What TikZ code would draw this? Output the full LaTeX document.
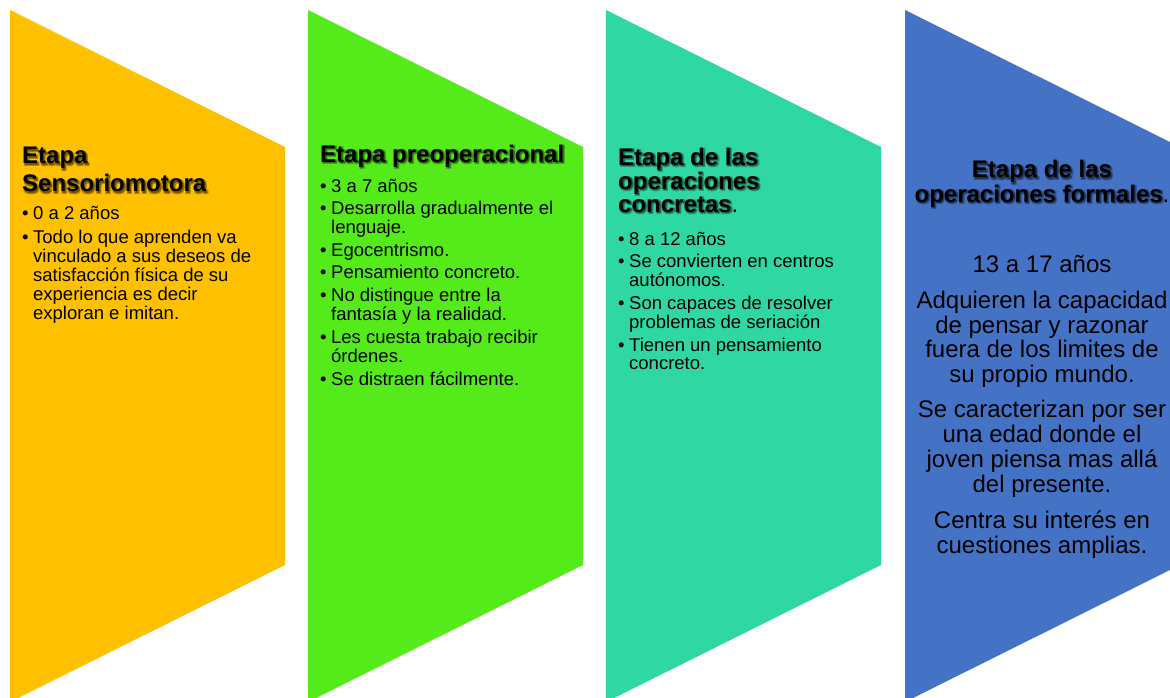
\documentclass[tikz,border=0pt]{standalone}
\usepackage{fontspec}
\setmainfont{Liberation Sans}
\definecolor{sensocol}{HTML}{FFC000}
\definecolor{preopcol}{HTML}{55EB1A}
\definecolor{concol}{HTML}{2FD8A2}
\definecolor{formcol}{HTML}{4472C4}
% bold titles carry a soft dark shadow
\newcommand{\shadl}[4]{\rlap{\kern#1\raisebox{#2}{\textcolor{#3}{#4}}}}
\newcommand{\shad}[2]{\leavevmode
    \shadl{2.2pt}{-2.2pt}{black!28!#1}{#2}\shadl{0.4pt}{-2.2pt}{black!28!#1}{#2}%
    \shadl{2.2pt}{-0.4pt}{black!28!#1}{#2}\shadl{1.3pt}{-1.3pt}{black!55!#1}{#2}#2}
\newcommand{\bul}{\textbullet}

\begin{document}
\begin{tikzpicture}[x=1pt, y=-1pt,
        title/.style={anchor=base west, inner sep=0pt, font=\fontsize{24}{28}\selectfont\bfseries},
        list/.style={anchor=base west, inner sep=0pt, font=\fontsize{18.5}{18.8}\selectfont},
        body/.style={anchor=base, inner sep=0pt, font=\fontsize{24}{24}\selectfont}]
        \useasboundingbox (0,0) rectangle (1170,698);
        \clip (0,0) rectangle (1170,698);

        \fill[sensocol] (10,10) -- (285,147) -- (285,565) -- (10,702) -- cycle;
        \fill[preopcol] (308,10) -- (583,147) -- (583,565) -- (308,702) -- cycle;
        \fill[concol] (606,10) -- (881,147) -- (881,565) -- (606,702) -- cycle;
        \fill[formcol] (905,10) -- (1180,147) -- (1180,565) -- (905,702) -- cycle;

        \node[title] (sens) at (22,164) {\begin{tabular}[t]{@{}l@{}}
            \shad{sensocol}{Etapa}\\ \shad{sensocol}{Sensoriomotora}\end{tabular}};
        \node[list] (sensl) at (22,219) {\begin{tabular}[t]{@{}l@{\hspace{4.5pt}}l@{}}
            \bul & 0 a 2 años\\[5.2pt]
            \bul & Todo lo que aprenden va\\
                 & vinculado a sus deseos de\\
                 & satisfacción física de su\\
                 & experiencia es decir\\
                 & exploran e imitan.\end{tabular}};

        \node[title] (preop) at (320,162) {\shad{preopcol}{Etapa preoperacional}};
        \node[list] (preopl) at (320,192) {\begin{tabular}[t]{@{}l@{\hspace{4.5pt}}l@{}}
            \bul & 3 a 7 años\\[3.5pt]
            \bul & Desarrolla gradualmente el\\
                 & lenguaje.\\[3.5pt]
            \bul & Egocentrismo.\\[3.5pt]
            \bul & Pensamiento concreto.\\[3.5pt]
            \bul & No distingue entre la\\
                 & fantasía y la realidad.\\[3.5pt]
            \bul & Les cuesta trabajo recibir\\
                 & órdenes.\\[3.5pt]
            \bul & Se distraen fácilmente.\end{tabular}};

        \node[title, font=\fontsize{24}{22.5}\selectfont\bfseries] (conc) at (618,165) {\begin{tabular}[t]{@{}l@{}}
            \shad{concol}{Etapa de las}\\ \shad{concol}{operaciones}\\
            \shad{concol}{concretas}\textmd{.}\end{tabular}};
        \node[list, font=\fontsize{18.5}{18}\selectfont] (concl) at (618,245) {\begin{tabular}[t]{@{}l@{\hspace{4.5pt}}l@{}}
            \bul & 8 a 12 años\\[4pt]
            \bul & Se convierten en centros\\
                 & autónomos.\\[4pt]
            \bul & Son capaces de resolver\\
                 & problemas de seriación\\[4pt]
            \bul & Tienen un pensamiento\\
                 & concreto.\end{tabular}};

        \node[title, anchor=base, font=\fontsize{24}{24}\selectfont\bfseries] (form) at (1042,178) {\begin{tabular}[t]{@{}c@{}}
            \shad{formcol}{Etapa de las}\\
            \shad{formcol}{operaciones formales}\textmd{.}\end{tabular}};
        \node[body] (forml) at (1042,272) {\begin{tabular}[t]{@{}c@{}}
            13 a 17 años\\[12pt]
            Adquieren la capacidad\\
            de pensar y razonar\\
            fuera de los limites de\\
            su propio mundo.\\[11pt]
            Se caracterizan por ser\\
            una edad donde el\\
            joven piensa mas allá\\
            del presente.\\[12pt]
            Centra su interés en\\
            cuestiones amplias.\end{tabular}};
    \end{tikzpicture}
\end{document}
